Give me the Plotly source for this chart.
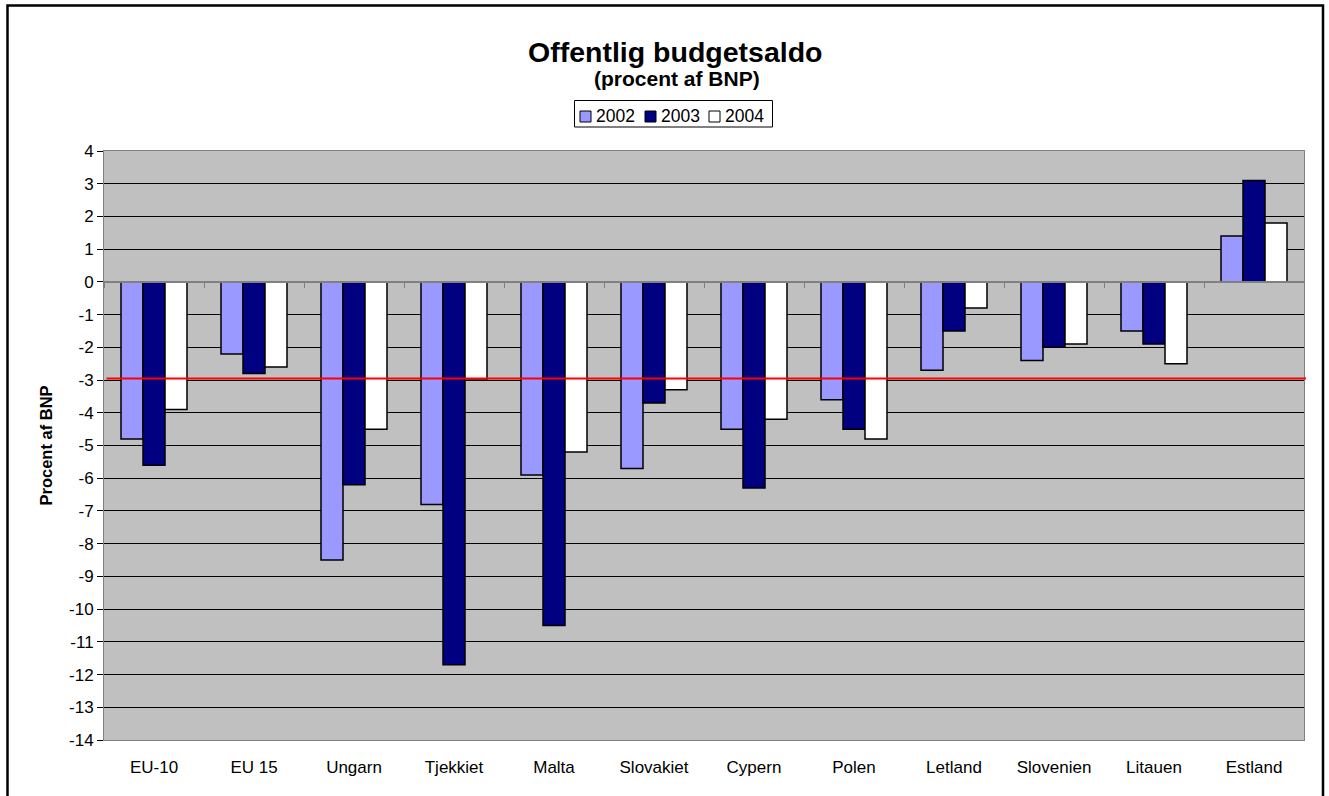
import plotly.graph_objects as go

# Offentlig budgetsaldo, procent af BNP
lande = ["EU-10", "EU 15", "Ungarn", "Tjekkiet", "Malta", "Slovakiet",
         "Cypern", "Polen", "Letland", "Slovenien", "Litauen", "Estland"]
saldo_2002 = [-4.8, -2.2, -8.5, -6.8, -5.9, -5.7, -4.5, -3.6, -2.7, -2.4, -1.5, 1.4]
saldo_2003 = [-5.6, -2.8, -6.2, -11.7, -10.5, -3.7, -6.3, -4.5, -1.5, -2.0, -1.9, 3.1]
saldo_2004 = [-3.9, -2.6, -4.5, -3.0, -5.2, -3.3, -4.2, -4.8, -0.8, -1.9, -2.5, 1.8]
aar = ["2002", "2003", "2004"]
y_ticks = list(range(-14, 5))
graense = -2.95  # referencelinje omkring -3 pct.

FONT = "Liberation Sans, Arial, sans-serif"
farver = ["#9999FF", "#000080", "#FFFFFF"]

W, H = 1329, 796
M_L, M_R, M_T, M_B = 104, 25, 151, 56
PW, PH = W - M_L - M_R, H - M_T - M_B


def px(x):
    """Pixel-x til papirkoordinat."""
    return (x - M_L) / PW


def py(y):
    """Pixel-y (fra toppen) til papirkoordinat."""
    return (H - M_B - y) / PH


fig = go.Figure()
for navn, vaerdier, farve in zip(aar, [saldo_2002, saldo_2003, saldo_2004], farver):
    fig.add_trace(go.Bar(
        x=lande, y=vaerdier, name=navn,
        marker=dict(color=farve, line=dict(color="#000000", width=1.5)),
        showlegend=False,
    ))

# usynlig hjælpeserie, så kategoriaksen ved 0 bliver tegnet
fig.add_trace(go.Scatter(x=[-0.5, 11.5], y=[0, 0], xaxis="x2", yaxis="y",
                         mode="lines", line=dict(width=0), showlegend=False,
                         hoverinfo="skip"))

shapes = [
    # rød referencelinje
    dict(type="line", xref="paper", yref="y", x0=px(106.5), x1=px(1306),
         y0=graense, y1=graense, line=dict(color="#FF0000", width=2),
         layer="above"),
    # ramme om hele figuren
    dict(type="rect", xref="paper", yref="paper",
         x0=px(7.5), x1=px(1323), y0=py(820), y1=py(5.5),
         line=dict(color="#000000", width=2.5), layer="above"),
    # forklaringsboks
    dict(type="rect", xref="paper", yref="paper",
         x0=px(574.5), x1=px(772.5), y0=py(127), y1=py(100.5),
         line=dict(color="#000000", width=1), fillcolor="#FFFFFF",
         layer="above"),
]
annotations = [
    dict(text="<b>Offentlig budgetsaldo</b>", xref="paper", yref="paper",
         x=px(675), y=py(52), xanchor="center", yanchor="middle",
         showarrow=False, font=dict(family=FONT, size=28.5, color="#000000")),
    dict(text="<b>(procent af BNP)</b>", xref="paper", yref="paper",
         x=px(677), y=py(78), xanchor="center", yanchor="middle",
         showarrow=False, font=dict(family=FONT, size=21, color="#000000")),
    dict(text="<b>Procent af BNP</b>", xref="paper", yref="paper",
         x=px(45), y=0.5, xanchor="center", yanchor="middle",
         textangle=-90, showarrow=False,
         font=dict(family=FONT, size=16.5, color="#000000")),
]

# forklaring: farvefelt + årstal for hver serie
felt_x = [580, 645, 709]
for navn, farve, x0 in zip(aar, farver, felt_x):
    shapes.append(dict(type="rect", xref="paper", yref="paper",
                       x0=px(x0), x1=px(x0 + 11), y0=py(122), y1=py(111),
                       line=dict(color="#000000", width=1), fillcolor=farve,
                       layer="above"))
    annotations.append(dict(text=navn, xref="paper", yref="paper",
                            x=px(x0 + 13.5), y=py(116.5), xanchor="left",
                            yanchor="middle", showarrow=False,
                            font=dict(family=FONT, size=17.5, color="#000000")))

fig.update_layout(
    width=W, height=H,
    margin=dict(l=M_L, r=M_R, t=M_T, b=M_B),
    paper_bgcolor="#FFFFFF",
    plot_bgcolor="#C0C0C0",
    barmode="group",
    bargap=0.34,
    bargroupgap=0,
    font=dict(family=FONT, size=17, color="#000000"),
    showlegend=False,
    xaxis=dict(
        type="category", categoryorder="array", categoryarray=lande,
        showgrid=False, showline=True, linecolor="#808080", linewidth=1,
        mirror=True, ticks="", ticklabelstandoff=12,
        tickfont=dict(family=FONT, size=17, color="#000000"),
        zeroline=False,
    ),
    xaxis2=dict(
        overlaying="x", anchor="free", position=14 / 18,
        range=[-0.5, 11.5], tickvals=[i - 0.5 for i in range(13)],
        ticks="outside", ticklen=5, tickcolor="#808080", tickwidth=1,
        showticklabels=False, showgrid=False, showline=True,
        linecolor="#808080", linewidth=2, zeroline=False,
    ),
    yaxis=dict(
        range=[-14, 4], tickvals=y_ticks, ticktext=[str(v) for v in y_ticks],
        showgrid=True, gridcolor="#000000", gridwidth=1,
        showline=True, linecolor="#808080", linewidth=1, mirror=True,
        ticks="outside", ticklen=6, tickcolor="#000000",
        tickfont=dict(family=FONT, size=17, color="#000000"),
        zeroline=False,
    ),
    shapes=shapes,
    annotations=annotations,
)

fig.write_html("out.html")
